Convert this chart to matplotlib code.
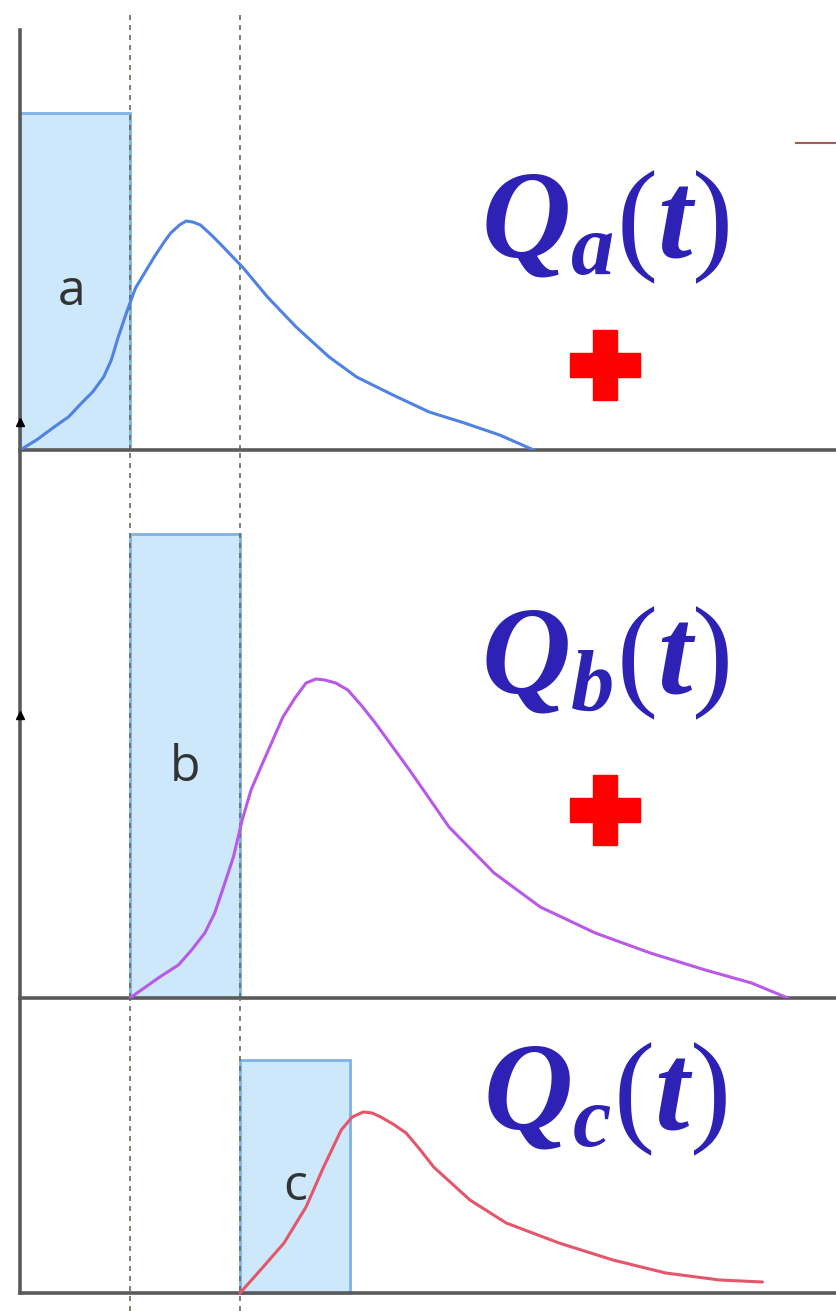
import matplotlib
matplotlib.use('Agg')
import matplotlib.pyplot as plt
from matplotlib.patches import Rectangle

plt.rcParams['mathtext.fontset'] = 'custom'
plt.rcParams['mathtext.rm'] = 'Liberation Serif'
plt.rcParams['mathtext.it'] = 'Liberation Serif:italic:bold'
plt.rcParams['mathtext.bf'] = 'Liberation Serif:bold'

# rainfall blocks a, b, c (time units, depth)
rain_labels = ['a', 'b', 'c']
rain_start = [0.0, 1.0, 2.0]
rain_width = [1.0, 1.0, 1.0]
rain_height = [3.37, 4.64, 2.33]

# runoff hydrographs
t_a = [0.0, 0.15, 0.31, 0.44, 0.56, 0.66, 0.76, 0.83, 0.89, 0.97, 1.05, 1.22,
       1.31, 1.37, 1.45, 1.51, 1.57, 1.64, 1.74, 1.83, 2.03, 2.25, 2.51, 2.81,
       3.06, 3.39, 3.72, 4.04, 4.36, 4.67]
q_a = [0.0, 0.10, 0.23, 0.33, 0.47, 0.58, 0.73, 0.90, 1.12, 1.38, 1.62, 1.93,
       2.08, 2.17, 2.25, 2.29, 2.28, 2.25, 2.15, 2.05, 1.82, 1.53, 1.23, 0.93,
       0.73, 0.55, 0.38, 0.27, 0.15, 0.0]

t_b = [1.0, 1.27, 1.44, 1.56, 1.68, 1.77, 1.85, 1.94, 2.02, 2.10, 2.19, 2.39,
       2.50, 2.60, 2.69, 2.77, 2.87, 2.98, 3.10, 3.23, 3.56, 3.90, 4.31, 4.73,
       5.23, 5.73, 6.23, 6.65, 6.98]
q_b = [0.0, 0.21, 0.33, 0.48, 0.65, 0.85, 1.11, 1.41, 1.78, 2.08, 2.31, 2.81,
       3.00, 3.15, 3.19, 3.18, 3.15, 3.08, 2.93, 2.75, 2.25, 1.71, 1.25, 0.91,
       0.65, 0.45, 0.28, 0.15, 0.0]

t_c = [2.0, 2.21, 2.40, 2.60, 2.76, 2.92, 3.02, 3.12, 3.20, 3.28, 3.39, 3.51,
       3.64, 3.76, 4.09, 4.42, 4.90, 5.39, 5.87, 6.36, 6.75]
q_c = [0.0, 0.26, 0.50, 0.86, 1.26, 1.63, 1.76, 1.81, 1.80, 1.76, 1.69, 1.60,
       1.43, 1.26, 0.93, 0.70, 0.50, 0.33, 0.20, 0.13, 0.11]

curves = [(t_a, q_a), (t_b, q_b), (t_c, q_c)]
curve_colors = ['#4f82e3', '#b85ae6', '#e4566a']
q_labels = [r'$Q_a(t)$', r'$Q_b(t)$', r'$Q_c(t)$']
q_label_y = [2.24, 3.36, 1.95]
rain_label_pos = [(0.47, 1.58), (1.5, 2.3), (2.5, 1.06)]
plus_y = [0.85, 1.88, None]

W, H = 836, 1311
fig = plt.figure(figsize=(W / 100, H / 100), dpi=100)

# panel boxes in pixels (top, bottom) and y-limits
panels_px = [(0, 450), (450, 998), (998, 1311)]
ylims = [(0, 4.5), (0, 5.48), (-0.18, 2.95)]
spine_top = [4.2, 5.48, 2.95]
xlim = (-0.182, 7.418)

axes = []
for (top, bot), yl in zip(panels_px, ylims):
    ax = fig.add_axes([0, (H - bot) / H, 1, (bot - top) / H])
    ax.set_xlim(xlim)
    ax.set_ylim(yl)
    ax.set_xticks([])
    ax.set_yticks([])
    ax.patch.set_alpha(0)
    for s in ['top', 'right']:
        ax.spines[s].set_visible(False)
    axes.append(ax)

for i, ax in enumerate(axes):
    ax.spines['bottom'].set_position(('data', 0))
    ax.spines['left'].set_position(('data', 0))
    ax.spines['left'].set_bounds(0, spine_top[i])
    ax.spines['bottom'].set_bounds(0, xlim[1])
    for s in ['left', 'bottom']:
        ax.spines[s].set_color('#5a5a5a')
        ax.spines[s].set_linewidth(2.6)

    # rain block
    ax.add_patch(Rectangle((rain_start[i], 0), rain_width[i], rain_height[i],
                           facecolor='#cde8fb', edgecolor='#7fb0e6', lw=2, zorder=1))
    ax.text(rain_label_pos[i][0], rain_label_pos[i][1], rain_labels[i],
            fontsize=36, family='Open Sans', color='#333333',
            ha='center', va='center', zorder=3)

    # hydrograph
    t, q = curves[i]
    ax.plot(t, q, color=curve_colors[i], lw=2.2, zorder=4,
            solid_joinstyle='round', solid_capstyle='round')

    ax.text(5.32, q_label_y[i], q_labels[i], fontsize=89, color='#2e22b6',
            ha='center', va='center', zorder=5)
    if plus_y[i] is not None:
        ax.plot([5.32], [plus_y[i]], marker='P', ms=50, color='#ff0000',
                mec='#ff0000', zorder=5)

    # dashed separators
    for xv in [1.0, 2.0]:
        ymax = 1.0
        if i == 0:
            ymax = (450 - 12) / 450
        ax.axvline(xv, ymin=0, ymax=ymax, color='#6a6a55', lw=1.2,
                   ls=(0, (3, 3)), zorder=2)

# small arrow heads on the left axis
axes[0].plot([0], [0.28], marker='^', ms=6, color='black', zorder=6, clip_on=False)
axes[1].plot([0], [2.83], marker='^', ms=6, color='black', zorder=6, clip_on=False)

# fragment of a legend at top right
axes[0].plot([7.05, 7.42], [3.07, 3.07], color='#a85a5a', lw=1.5)

fig.savefig('out.png', dpi=100)
